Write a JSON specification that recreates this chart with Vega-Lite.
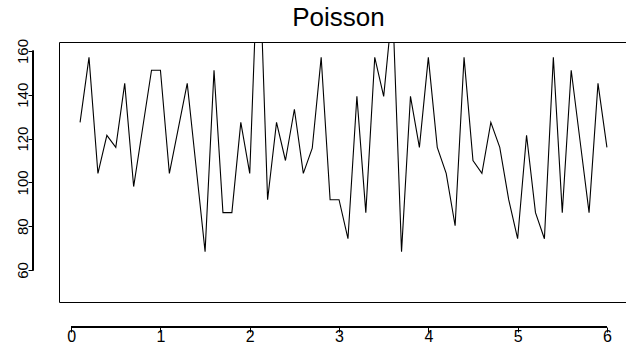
{
  "$schema": "https://vega.github.io/schema/vega-lite/v6.json",
  "autosize": "none",
  "width": 569,
  "height": 260,
  "padding": {"left": 59, "top": 42, "right": 0, "bottom": 42},
  "background": "white",
  "title": {
    "text": "Poisson",
    "font": "Liberation Sans",
    "fontSize": 26,
    "fontWeight": "normal",
    "color": "black",
    "anchor": "middle",
    "baseline": "alphabetic",
    "offset": 15,
    "dy": 29,
    "dx": -5
  },
  "config": {
    "view": {"stroke": "black", "strokeWidth": 1},
    "axis": {
      "labelFont": "Liberation Sans",
      "labelColor": "black",
      "tickColor": "black",
      "grid": false,
      "domain": false,
      "title": null
    }
  },
  "data": {
    "values": [
      {"x": 0.1, "y": 127.4}, {"x": 0.2, "y": 157.1}, {"x": 0.3, "y": 104.1}, {"x": 0.4, "y": 121.5},
      {"x": 0.5, "y": 116.0}, {"x": 0.6, "y": 145.2}, {"x": 0.7, "y": 98.1}, {"x": 0.8, "y": 124.6},
      {"x": 0.9, "y": 151.2}, {"x": 1.0, "y": 151.2}, {"x": 1.1, "y": 104.1}, {"x": 1.2, "y": 124.7},
      {"x": 1.3, "y": 145.2}, {"x": 1.4, "y": 106.8}, {"x": 1.5, "y": 68.4}, {"x": 1.6, "y": 151.2},
      {"x": 1.7, "y": 86.2}, {"x": 1.8, "y": 86.2}, {"x": 1.9, "y": 127.4}, {"x": 2.0, "y": 104.1},
      {"x": 2.1, "y": 213.0}, {"x": 2.2, "y": 92.1}, {"x": 2.3, "y": 127.4}, {"x": 2.4, "y": 110.0},
      {"x": 2.5, "y": 133.4}, {"x": 2.6, "y": 104.1}, {"x": 2.7, "y": 115.6}, {"x": 2.8, "y": 157.1},
      {"x": 2.9, "y": 92.1}, {"x": 3.0, "y": 92.1}, {"x": 3.1, "y": 74.3}, {"x": 3.2, "y": 139.3},
      {"x": 3.3, "y": 86.2}, {"x": 3.4, "y": 157.1}, {"x": 3.5, "y": 139.3}, {"x": 3.6, "y": 181.0},
      {"x": 3.7, "y": 68.4}, {"x": 3.8, "y": 139.3}, {"x": 3.9, "y": 116.0}, {"x": 4.0, "y": 157.1},
      {"x": 4.1, "y": 116.0}, {"x": 4.2, "y": 104.1}, {"x": 4.3, "y": 80.2}, {"x": 4.4, "y": 157.1},
      {"x": 4.5, "y": 110.0}, {"x": 4.6, "y": 104.1}, {"x": 4.7, "y": 127.4}, {"x": 4.8, "y": 116.0},
      {"x": 4.9, "y": 92.1}, {"x": 5.0, "y": 74.3}, {"x": 5.1, "y": 121.5}, {"x": 5.2, "y": 86.2},
      {"x": 5.3, "y": 74.3}, {"x": 5.4, "y": 157.1}, {"x": 5.5, "y": 86.2}, {"x": 5.6, "y": 151.2},
      {"x": 5.7, "y": 118.7}, {"x": 5.8, "y": 86.2}, {"x": 5.9, "y": 145.2}, {"x": 6.0, "y": 116.0}
    ]
  },
  "layer": [
    {
      "mark": {"type": "line", "color": "black", "strokeWidth": 1.1, "clip": true},
      "encoding": {
        "x": {
          "field": "x", "type": "quantitative",
          "scale": {"domain": [-0.136, 6.236], "nice": false, "zero": false},
          "axis": {"orient": "bottom", "offset": 25, "values": [0, 1, 2, 3, 4, 5, 6], "format": "d",
                   "tickSize": 5, "labelPadding": -4, "labelFontSize": 16, "labelAngle": 0}
        },
        "y": {
          "field": "y", "type": "quantitative",
          "scale": {"domain": [45.4, 164.1], "nice": false, "zero": false},
          "axis": {"orient": "left", "offset": 26, "values": [60, 80, 100, 120, 140, 160], "format": "d",
                   "tickSize": 5, "labelPadding": 1, "labelFontSize": 15, "labelAngle": 270,
                   "labelAlign": "center", "labelBaseline": "alphabetic"}
        }
      }
    },
    {
      "mark": {"type": "rule", "color": "black", "strokeWidth": 1, "clip": false},
      "encoding": {
        "x": {"datum": 0, "type": "quantitative"},
        "x2": {"datum": 6},
        "y": {"datum": 34.0, "type": "quantitative"}
      }
    },
    {
      "mark": {"type": "rule", "color": "black", "strokeWidth": 1, "clip": false},
      "encoding": {
        "x": {"datum": -0.427, "type": "quantitative"},
        "y": {"datum": 60, "type": "quantitative"},
        "y2": {"datum": 160}
      }
    }
  ]
}
